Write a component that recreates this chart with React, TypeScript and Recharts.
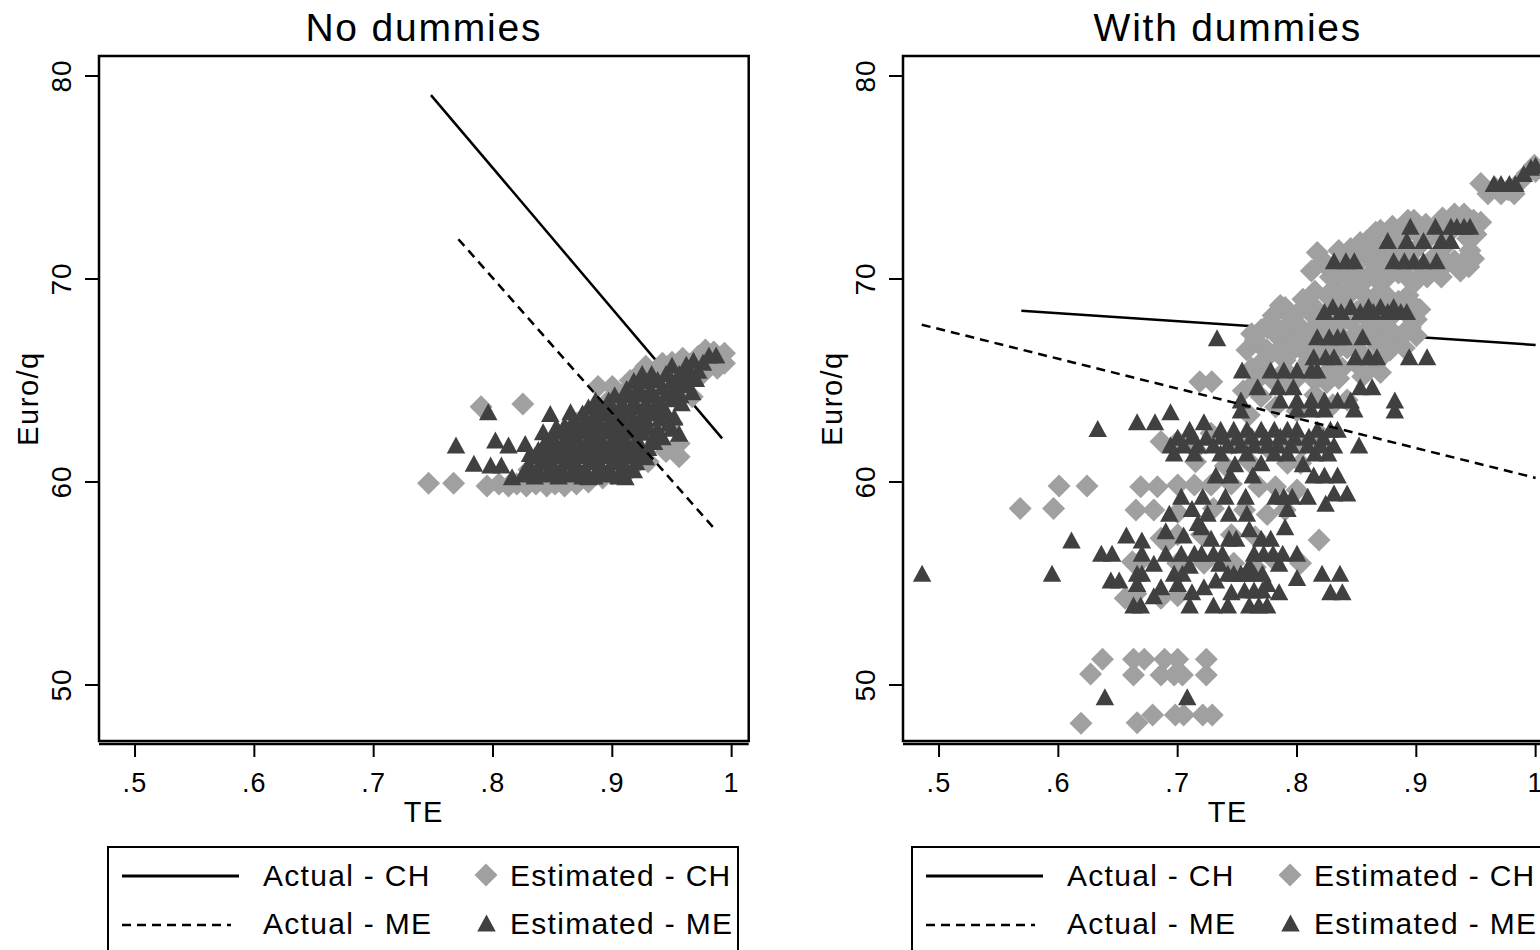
import React from 'react';
import { ScatterChart, Scatter, XAxis, YAxis } from 'recharts';

type Pt = [number, number];

const teTicks = [0.5, 0.6, 0.7, 0.8, 0.9, 1];
const teTickLabels = ['.5', '.6', '.7', '.8', '.9', '1'];
const euroTicks = [50, 60, 70, 80];
const panelTitles = ['No dummies', 'With dummies'];
const legendLabels = ['Actual - CH', 'Estimated - CH', 'Actual - ME', 'Estimated - ME'];
const xTitle = 'TE';
const yTitle = 'Euro/q';

// ---- Panel 1: No dummies ----
const noDumActualCH: Pt[] = [[0.748, 79.06], [0.992, 62.15]];
const noDumActualME: Pt[] = [[0.771, 71.96], [0.986, 57.67]];
const noDumEstCH: Pt[] = [
  [0.746, 59.94], [0.767, 59.94], [0.790, 63.71], [0.825, 63.84],
  [0.795, 59.8], [0.805, 59.9], [0.813, 59.8], [0.820, 59.9], [0.828, 59.8], [0.836, 59.9], [0.845, 59.8], [0.852, 59.9], [0.860, 59.8], [0.870, 59.9], [0.880, 60.0], [0.892, 60.2],
  [0.830, 60.6], [0.845, 60.2], [0.855, 60.5], [0.840, 61.2], [0.850, 61.8], [0.865, 61.0], [0.860, 62.4], [0.875, 61.6], [0.870, 62.9], [0.885, 62.2], [0.880, 63.4], [0.895, 63.9], [0.905, 63.0],
  [0.888, 64.7], [0.900, 64.7], [0.910, 64.4], [0.915, 65.0], [0.920, 63.6], [0.922, 65.3], [0.928, 65.7], [0.935, 64.2], [0.935, 65.4], [0.942, 65.85], [0.950, 64.8], [0.950, 65.9],
  [0.959, 66.1], [0.960, 65.2], [0.965, 65.8], [0.972, 66.2], [0.976, 65.35], [0.978, 66.5], [0.980, 65.9], [0.985, 66.4], [0.988, 65.6], [0.990, 66.0], [0.994, 66.34], [0.994, 65.85],
  [0.967, 64.2], [0.950, 62.9], [0.956, 61.9], [0.956, 61.25], [0.945, 61.5], [0.930, 61.0], [0.915, 60.6], [0.900, 60.4],
];
const noDumEstME: Pt[] = [
  [0.769, 61.82], [0.796, 63.46], [0.802, 62.07], [0.813, 61.82], [0.827, 61.9], [0.784, 60.92], [0.798, 60.84], [0.807, 60.84], [0.816, 60.26], [0.831, 61.41],
  [0.842, 62.48], [0.853, 62.72], [0.848, 63.38], [0.865, 63.46],
  [0.825, 60.4], [0.835, 60.3], [0.845, 60.4], [0.855, 60.3], [0.865, 60.4], [0.875, 60.3], [0.885, 60.3], [0.895, 60.4], [0.905, 60.3], [0.911, 60.26], [0.880, 60.26],
  [0.828, 60.65], [0.838, 60.6], [0.848, 60.65], [0.858, 60.6], [0.868, 60.65], [0.878, 60.6], [0.888, 60.65], [0.898, 60.6], [0.908, 60.65], [0.918, 60.6],
  [0.830, 60.9], [0.840, 61.0], [0.850, 60.9], [0.860, 61.0], [0.870, 60.9], [0.880, 61.0], [0.890, 60.9], [0.900, 61.0], [0.910, 60.9], [0.920, 61.0], [0.928, 61.25],
  [0.835, 61.3], [0.845, 61.25], [0.855, 61.3], [0.865, 61.25], [0.875, 61.3], [0.885, 61.25], [0.895, 61.3], [0.905, 61.25], [0.915, 61.3], [0.925, 61.4],
  [0.838, 61.6], [0.848, 61.5], [0.858, 61.6], [0.868, 61.5], [0.878, 61.6], [0.888, 61.5], [0.898, 61.6], [0.908, 61.5], [0.918, 61.6], [0.930, 61.7],
  [0.843, 61.9], [0.853, 61.85], [0.863, 61.9], [0.873, 61.85], [0.883, 61.9], [0.893, 61.85], [0.903, 61.9], [0.913, 61.85], [0.923, 61.9], [0.935, 62.0],
  [0.850, 62.2], [0.860, 62.1], [0.870, 62.2], [0.880, 62.1], [0.890, 62.2], [0.900, 62.1], [0.910, 62.2], [0.920, 62.1], [0.935, 62.3], [0.942, 62.23],
  [0.855, 62.5], [0.865, 62.45], [0.875, 62.5], [0.885, 62.45], [0.895, 62.5], [0.905, 62.45], [0.915, 62.5], [0.925, 62.45], [0.938, 62.6], [0.950, 62.65],
  [0.860, 62.8], [0.870, 62.7], [0.880, 62.8], [0.890, 62.7], [0.900, 62.8], [0.910, 62.7], [0.920, 62.8], [0.930, 62.7], [0.947, 62.89], [0.956, 62.4],
  [0.868, 63.1], [0.878, 63.05], [0.888, 63.1], [0.898, 63.05], [0.908, 63.1], [0.918, 63.05], [0.928, 63.1], [0.940, 63.15], [0.952, 63.2],
  [0.875, 63.4], [0.885, 63.3], [0.895, 63.4], [0.905, 63.3], [0.915, 63.4], [0.925, 63.3], [0.935, 63.4], [0.945, 63.5],
  [0.880, 63.7], [0.890, 63.65], [0.900, 63.7], [0.910, 63.65], [0.920, 63.7], [0.930, 63.65], [0.942, 63.75], [0.958, 63.9],
  [0.886, 64.04], [0.897, 64.04], [0.908, 63.9], [0.918, 64.0], [0.928, 63.9], [0.938, 64.0], [0.950, 64.1], [0.967, 64.45],
  [0.902, 64.3], [0.913, 64.3], [0.923, 64.35], [0.933, 64.3], [0.945, 64.35], [0.957, 64.3],
  [0.912, 64.6], [0.922, 64.7], [0.932, 64.6], [0.942, 64.7], [0.952, 64.6], [0.962, 64.8],
  [0.918, 65.0], [0.928, 65.0], [0.938, 65.05], [0.950, 65.0], [0.960, 65.05], [0.970, 65.1],
  [0.925, 65.35], [0.933, 65.35], [0.945, 65.35], [0.956, 65.35], [0.964, 65.35], [0.972, 65.5],
  [0.950, 65.75], [0.962, 65.8], [0.968, 66.0],
  [0.981, 66.26], [0.987, 66.26], [0.976, 65.9],
];

// ---- Panel 2: With dummies ----
const dumActualCH: Pt[] = [[0.569, 68.44], [1.0, 66.75]];
const dumActualME: Pt[] = [[0.4855, 67.75], [1.0, 60.2]];
const dumEstCH: Pt[] = [
  [0.619, 48.11], [0.666, 48.14], [0.679, 48.52], [0.698, 48.52], [0.705, 48.52], [0.721, 48.52], [0.729, 48.52],
  [0.627, 50.54], [0.637, 51.27], [0.663, 51.27], [0.672, 51.27], [0.663, 50.49], [0.689, 51.27], [0.700, 51.27], [0.686, 50.49], [0.697, 50.49], [0.704, 50.49], [0.724, 51.27], [0.724, 50.49],
  [0.656, 54.27], [0.686, 54.27], [0.665, 54.5], [0.700, 54.4],
  [0.662, 56.07], [0.667, 56.0], [0.700, 56.0], [0.722, 56.0], [0.747, 56.0], [0.765, 55.8], [0.780, 56.2], [0.803, 56.0],
  [0.686, 57.23], [0.690, 57.0], [0.700, 57.4], [0.720, 57.4], [0.745, 57.4], [0.765, 57.3], [0.8185, 57.14],
  [0.568, 58.70], [0.596, 58.70], [0.665, 58.62], [0.680, 58.62], [0.700, 58.5], [0.730, 58.7], [0.756, 58.62], [0.775, 58.4], [0.790, 58.62],
  [0.6006, 59.80], [0.624, 59.80], [0.669, 59.77], [0.683, 59.77], [0.700, 59.85], [0.714, 59.85], [0.728, 59.85], [0.745, 59.9], [0.768, 59.77], [0.782, 59.77], [0.800, 59.6],
  [0.715, 61.0], [0.740, 60.8], [0.760, 61.0], [0.792, 60.92], [0.803, 60.92],
  [0.686, 62.0], [0.700, 62.0], [0.715, 61.6], [0.728, 62.4], [0.745, 61.9], [0.760, 62.2], [0.775, 61.7], [0.790, 62.1], [0.805, 61.8], [0.820, 62.3],
  [0.760, 63.3], [0.782, 63.7], [0.800, 63.5], [0.830, 63.8], [0.770, 64.2], [0.815, 64.3], [0.842, 64.04], [0.755, 64.5],
  [0.7185, 64.94], [0.7286, 64.94], [0.764, 64.86], [0.790, 64.9], [0.825, 64.9],
  [0.780, 65.0], [0.800, 65.1], [0.815, 65.0], [0.835, 65.1], [0.855, 65.2], [0.870, 65.4],
  [0.762, 65.6], [0.772, 65.4], [0.790, 65.5], [0.808, 65.8], [0.825, 65.4], [0.838, 65.6],
  [0.770, 65.9], [0.790, 66.0], [0.810, 66.0], [0.830, 65.9], [0.850, 65.8], [0.870, 66.1], [0.862, 65.9],
  [0.758, 66.5], [0.768, 66.8], [0.776, 66.2], [0.786, 66.6], [0.796, 66.9], [0.806, 66.4], [0.818, 66.7], [0.830, 66.3], [0.842, 66.6], [0.855, 66.3], [0.868, 66.7],
  [0.775, 66.5], [0.795, 66.4], [0.815, 66.3], [0.835, 66.9], [0.850, 66.5], [0.878, 66.5], [0.890, 66.6],
  [0.765, 67.0], [0.785, 67.1], [0.805, 67.0], [0.825, 67.1], [0.845, 67.0], [0.865, 67.1], [0.885, 67.0], [0.900, 67.2],
  [0.775, 67.6], [0.795, 67.2], [0.815, 67.2], [0.835, 67.3], [0.852, 67.2], [0.875, 67.1], [0.895, 67.6],
  [0.762, 67.3], [0.770, 67.5], [0.778, 67.9], [0.790, 67.6], [0.800, 67.8], [0.812, 67.5], [0.822, 67.9], [0.832, 67.6], [0.845, 67.9], [0.858, 67.5], [0.870, 67.8], [0.880, 67.4], [0.892, 67.5],
  [0.780, 68.2], [0.800, 68.3], [0.820, 68.0], [0.840, 68.2], [0.860, 68.0], [0.880, 68.2], [0.900, 68.0],
  [0.790, 68.6], [0.810, 68.4], [0.830, 68.5], [0.850, 68.4], [0.870, 68.4], [0.890, 68.4], [0.903, 68.5],
  [0.786, 68.7], [0.795, 68.1], [0.805, 69.0], [0.815, 68.6], [0.825, 69.2], [0.835, 68.9], [0.845, 69.3], [0.855, 68.6], [0.865, 69.1], [0.875, 68.7], [0.885, 68.9], [0.898, 68.7],
  [0.815, 69.4], [0.835, 69.4], [0.855, 69.3], [0.875, 69.2], [0.893, 69.2],
  [0.812, 70.4], [0.817, 71.3], [0.825, 70.6], [0.828, 70.1], [0.832, 70.2], [0.838, 70.9], [0.842, 70.1], [0.845, 71.5], [0.848, 70.6], [0.852, 71.3], [0.855, 69.8], [0.859, 70.1],
  [0.822, 70.9], [0.835, 71.4], [0.850, 70.3], [0.853, 71.8], [0.866, 72.3], [0.880, 72.6], [0.893, 72.9], [0.908, 72.7], [0.922, 73.0], [0.940, 73.2], [0.950, 72.2],
  [0.915, 70.5], [0.926, 70.8], [0.885, 70.3], [0.868, 69.9], [0.900, 69.9],
  [0.859, 71.9], [0.862, 70.9], [0.865, 71.6], [0.870, 70.4], [0.870, 72.4], [0.872, 71.1], [0.876, 70.1], [0.879, 71.8], [0.882, 70.6], [0.886, 71.4], [0.889, 72.1], [0.892, 70.1],
  [0.895, 70.9], [0.898, 72.4], [0.898, 72.9], [0.902, 71.6], [0.906, 70.4], [0.909, 70.1], [0.912, 72.1], [0.915, 71.1], [0.918, 72.6], [0.921, 70.1], [0.924, 71.6], [0.928, 72.3],
  [0.932, 70.9], [0.932, 73.2], [0.936, 72.7], [0.937, 70.4], [0.940, 70.9], [0.943, 72.0], [0.944, 70.6], [0.945, 71.4], [0.948, 72.9], [0.948, 71.0], [0.954, 72.8],
  [0.954, 74.7], [0.960, 74.2], [0.966, 74.5], [0.971, 74.2], [0.977, 74.4], [0.982, 74.2], [0.987, 74.8], [0.993, 75.2], [0.999, 75.6], [1.0, 75.3],
];
const dumEstME: Pt[] = [
  [0.965, 74.7], [0.971, 74.7], [0.978, 74.7], [0.983, 74.7], [0.990, 75.2], [0.996, 75.5], [1.0, 75.6],
  [0.895, 72.6], [0.916, 72.6], [0.929, 72.6], [0.934, 72.6], [0.940, 72.6], [0.945, 72.6],
  [0.876, 71.9], [0.892, 71.9], [0.906, 71.9], [0.921, 71.9], [0.929, 71.9],
  [0.831, 70.9], [0.841, 70.9], [0.848, 70.9], [0.881, 70.9], [0.890, 70.9], [0.898, 70.9], [0.906, 70.9], [0.917, 70.9],
  [0.823, 68.4], [0.830, 68.64], [0.837, 68.4], [0.845, 68.64], [0.853, 68.4], [0.860, 68.64], [0.864, 68.4], [0.870, 68.64], [0.876, 68.4], [0.881, 68.64], [0.887, 68.4], [0.892, 68.4],
  [0.733, 67.1], [0.817, 67.16], [0.827, 67.16], [0.834, 67.16], [0.839, 67.16], [0.855, 67.16],
  [0.814, 66.17], [0.824, 66.17], [0.831, 66.17], [0.849, 66.17], [0.860, 66.17], [0.867, 66.17], [0.894, 66.17], [0.909, 66.17],
  [0.754, 65.52], [0.778, 65.52], [0.789, 65.52], [0.800, 65.52], [0.812, 65.52], [0.817, 65.52],
  [0.767, 64.69], [0.784, 64.69], [0.797, 64.69], [0.853, 64.69], [0.863, 64.69],
  [0.753, 64.04], [0.753, 63.55], [0.786, 64.04], [0.800, 64.04], [0.812, 64.04], [0.823, 64.04], [0.834, 64.04], [0.845, 64.04], [0.848, 63.6], [0.800, 63.6], [0.812, 63.6], [0.823, 63.6], [0.882, 64.04], [0.882, 63.55],
  [0.633, 62.64], [0.666, 62.97], [0.681, 62.97], [0.694, 63.46], [0.710, 62.6], [0.722, 62.97], [0.736, 62.6], [0.747, 62.6], [0.758, 62.6], [0.770, 62.6], [0.781, 62.6], [0.792, 62.6], [0.800, 62.6], [0.817, 62.6], [0.828, 62.6], [0.834, 62.6],
  [0.700, 62.2], [0.712, 62.25], [0.724, 62.2], [0.737, 62.25], [0.750, 62.2], [0.762, 62.25], [0.774, 62.2], [0.786, 62.25], [0.798, 62.2], [0.810, 62.25], [0.822, 62.2],
  [0.694, 61.82], [0.705, 61.82], [0.717, 61.82], [0.730, 61.82], [0.742, 61.82], [0.753, 61.82], [0.764, 61.82], [0.775, 61.82], [0.784, 61.82], [0.795, 61.82], [0.809, 61.82], [0.820, 61.82], [0.831, 61.82], [0.852, 61.82],
  [0.697, 61.43], [0.714, 61.43], [0.736, 61.43], [0.758, 61.43], [0.781, 61.43], [0.792, 61.43], [0.815, 61.43], [0.826, 61.43],
  [0.748, 60.9], [0.770, 60.95], [0.805, 60.9],
  [0.732, 60.34], [0.744, 60.34], [0.763, 60.34], [0.814, 60.34], [0.823, 60.34], [0.834, 60.34],
  [0.703, 59.3], [0.721, 59.3], [0.740, 59.3], [0.757, 59.3], [0.782, 59.3], [0.789, 59.3], [0.796, 59.3], [0.809, 59.3], [0.831, 59.46], [0.842, 59.46], [0.824, 58.95],
  [0.693, 58.46], [0.712, 58.70], [0.725, 58.46], [0.743, 58.46], [0.758, 58.46], [0.792, 58.70], [0.717, 58.0],
  [0.690, 57.6], [0.720, 57.8], [0.760, 57.7], [0.790, 57.8],
  [0.611, 57.14], [0.657, 57.39], [0.670, 57.14], [0.705, 57.39], [0.728, 57.23], [0.743, 57.23], [0.749, 57.23], [0.770, 57.23], [0.778, 57.23],
  [0.636, 56.49], [0.645, 56.49], [0.670, 56.49], [0.690, 56.49], [0.703, 56.49], [0.714, 56.49], [0.720, 56.49], [0.730, 56.49], [0.7375, 56.49], [0.764, 56.49], [0.772, 56.49], [0.780, 56.49], [0.788, 56.49], [0.800, 56.49],
  [0.680, 56.0], [0.710, 55.9], [0.735, 56.0], [0.760, 55.9], [0.785, 56.0],
  [0.4858, 55.50], [0.5947, 55.50], [0.666, 55.50], [0.670, 55.50], [0.697, 55.50], [0.704, 55.50], [0.742, 55.50], [0.747, 55.50], [0.753, 55.50], [0.758, 55.50], [0.764, 55.50], [0.771, 55.50], [0.821, 55.50], [0.836, 55.50],
  [0.644, 55.17], [0.651, 55.17], [0.732, 55.17], [0.666, 55.0], [0.700, 55.0], [0.775, 55.0], [0.800, 55.3], [0.686, 54.84], [0.722, 54.84],
  [0.680, 54.4], [0.712, 54.6], [0.745, 54.6], [0.756, 54.68], [0.764, 54.68], [0.771, 54.68], [0.785, 54.6], [0.828, 54.6], [0.838, 54.6],
  [0.663, 53.94], [0.669, 53.94], [0.710, 53.94], [0.730, 53.94], [0.742, 53.94], [0.760, 53.94], [0.768, 53.94], [0.775, 53.94],
  [0.639, 49.42], [0.708, 49.42],
];

const toRows = (pts: Pt[]) => pts.map(([x, y]) => ({ x, y }));

// ---- layout / style ----
const FONT = "'Liberation Sans', Arial, Helvetica, sans-serif";
const X_DOMAIN: [number, number] = [0.4698, 1.0143];
const Y_DOMAIN: [number, number] = [47.094, 80.985];
const CHART_W = 780;
const CHART_H = 950;
const MARGIN = { top: 56, right: 31.3, bottom: 146, left: 39 };
const PLOT_L = 99;
const PLOT_R = 748.7;
const PLOT_T = 56;
const FRAME_B = 741;
const PANEL_OFFSETS = [0, 803.7];
const CH_COLOR = '#a0a0a0';
const ME_COLOR = '#404040';
const DASH = '9 6';

const diamondPath = (cx: number, cy: number, h: number) =>
  `M${cx},${cy - h}L${cx + h},${cy}L${cx},${cy + h}L${cx - h},${cy}Z`;
const trianglePath = (cx: number, cy: number, w: number, h: number) =>
  `M${cx},${cy - h / 2}L${cx + w / 2},${cy + h / 2}L${cx - w / 2},${cy + h / 2}Z`;

const renderDiamond = (p: any) =>
  p.cx == null ? <g /> : <path d={diamondPath(p.cx, p.cy, 11.5)} fill={CH_COLOR} />;
const renderTriangle = (p: any) =>
  p.cx == null ? <g /> : <path d={trianglePath(p.cx, p.cy, 18.5, 17)} fill={ME_COLOR} />;
const renderNone = () => <g />;

const XTick = (p: any) => {
  const i = Math.round(p.payload.value * 10) - 5;
  return (
    <text x={p.x} y={p.y + 35} textAnchor="middle" fill="#000"
      style={{ fontFamily: FONT, fontSize: 27, letterSpacing: 1.2 }}>
      {teTickLabels[i] ?? ''}
    </text>
  );
};

const YTick = (p: any) => {
  const bx = p.x - 13.5;
  return (
    <text x={bx} y={p.y} textAnchor="middle" fill="#000" transform={`rotate(-90 ${bx} ${p.y})`}
      style={{ fontFamily: FONT, fontSize: 28, letterSpacing: 1 }}>
      {String(p.payload.value)}
    </text>
  );
};

type PanelProps = {
  idx: number;
  actualCH: Pt[];
  actualME: Pt[];
  estCH: Pt[];
  estME: Pt[];
};

function Panel({ idx, actualCH, actualME, estCH, estME }: PanelProps) {
  const left = PANEL_OFFSETS[idx];
  const cx = (PLOT_L + PLOT_R) / 2;
  const textStyle = { fontFamily: FONT };
  return (
    <>
      <div style={{ position: 'absolute', left, top: 0, width: CHART_W, height: CHART_H }}>
        <ScatterChart width={CHART_W} height={CHART_H} margin={MARGIN}>
          <XAxis type="number" dataKey="x" domain={X_DOMAIN} ticks={teTicks} allowDataOverflow interval={0}
            height={60} tickSize={13} tickMargin={0}
            axisLine={{ stroke: '#000', strokeWidth: 2.5 }} tickLine={{ stroke: '#000', strokeWidth: 2 }}
            tick={(p: any) => <XTick {...p} />} />
          <YAxis type="number" dataKey="y" domain={Y_DOMAIN} ticks={euroTicks} allowDataOverflow interval={0}
            width={60} tickSize={14} tickMargin={0} axisLine={false}
            tickLine={{ stroke: '#000', strokeWidth: 2 }}
            tick={(p: any) => <YTick {...p} />} />
          <Scatter name={legendLabels[0]} data={toRows(actualCH)} shape={renderNone} fill="#000"
            line={{ stroke: '#000', strokeWidth: 2.5 }} isAnimationActive={false} />
          <Scatter name={legendLabels[1]} data={toRows(estCH)} shape={renderDiamond} fill={CH_COLOR} isAnimationActive={false} />
          <Scatter name={legendLabels[3]} data={toRows(estME)} shape={renderTriangle} fill={ME_COLOR} isAnimationActive={false} />
          <Scatter name={legendLabels[2]} data={toRows(actualME)} shape={renderNone} fill="#000"
            line={{ stroke: '#000', strokeWidth: 2.5, strokeDasharray: DASH }} isAnimationActive={false} />
        </ScatterChart>
      </div>
      <svg width={CHART_W} height={CHART_H}
        style={{ position: 'absolute', left, top: 0, pointerEvents: 'none', overflow: 'visible' }}>
        <rect x={PLOT_L} y={PLOT_T} width={PLOT_R - PLOT_L} height={FRAME_B - PLOT_T}
          fill="none" stroke="#000" strokeWidth={2.5} />
        <text x={cx} y={41} textAnchor="middle" fill="#000"
          style={{ ...textStyle, fontSize: 39, letterSpacing: 1.8 }}>{panelTitles[idx]}</text>
        <text x={cx} y={822} textAnchor="middle" fill="#000"
          style={{ ...textStyle, fontSize: 29, letterSpacing: 1.5 }}>{xTitle}</text>
        <text x={37.5} y={398.5} textAnchor="middle" fill="#000" transform="rotate(-90 37.5 398.5)"
          style={{ ...textStyle, fontSize: 29, letterSpacing: 1.5 }}>{yTitle}</text>
        {/* legend */}
        <rect x={108} y={847} width={630} height={140} fill="#fff" stroke="#000" strokeWidth={2} />
        <line x1={122} x2={239} y1={876} y2={876} stroke="#000" strokeWidth={3} />
        <text x={263} y={886} fill="#000" style={{ ...textStyle, fontSize: 30, letterSpacing: 1.3 }}>{legendLabels[0]}</text>
        <path d={diamondPath(486, 875, 11.5)} fill={CH_COLOR} />
        <text x={510} y={886} fill="#000" style={{ ...textStyle, fontSize: 30, letterSpacing: 1.3 }}>{legendLabels[1]}</text>
        <line x1={122} x2={231} y1={925} y2={925} stroke="#000" strokeWidth={2.5} strokeDasharray={DASH} />
        <text x={263} y={934} fill="#000" style={{ ...textStyle, fontSize: 30, letterSpacing: 1.3 }}>{legendLabels[2]}</text>
        <path d={trianglePath(486.5, 923, 18.5, 17)} fill={ME_COLOR} />
        <text x={510} y={934} fill="#000" style={{ ...textStyle, fontSize: 30, letterSpacing: 1.3 }}>{legendLabels[3]}</text>
      </svg>
    </>
  );
}

export default function App() {
  return (
    <div style={{ position: 'absolute', left: 0, top: 0, width: 1540, height: 950, overflow: 'hidden', background: '#fff' }}>
      <Panel idx={0} actualCH={noDumActualCH} actualME={noDumActualME} estCH={noDumEstCH} estME={noDumEstME} />
      <Panel idx={1} actualCH={dumActualCH} actualME={dumActualME} estCH={dumEstCH} estME={dumEstME} />
    </div>
  );
}
